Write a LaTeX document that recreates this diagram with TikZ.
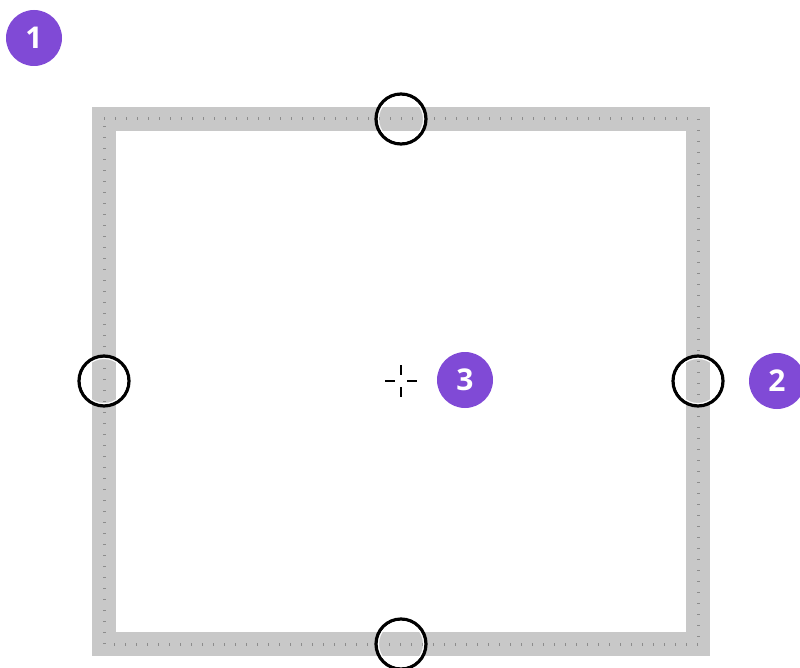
\documentclass[tikz,border=0pt]{standalone}
\usepackage{fontspec}
\setmainfont{Open Sans}
\definecolor{badge}{RGB}{128,74,214}
\definecolor{band}{RGB}{200,200,200}
\definecolor{tick}{RGB}{140,140,140}
\tikzset{
  bandline/.style={draw=band, line width=24pt},
  tickline/.style={draw=tick, line width=3pt, dash pattern=on 1pt off 10pt},
  handle/.style={circle, draw=black, line width=3.2pt, minimum size=50pt, inner sep=0pt},
  badgenode/.style={circle, fill=badge, text=white, minimum size=56pt, inner sep=0pt, font=\fontsize{30pt}{30pt}\selectfont\bfseries},
  crossline/.style={draw=black, line width=1.5pt}
}
\begin{document}
\begin{tikzpicture}[x=1pt,y=-1pt]
\useasboundingbox (0,0) rectangle (800,668);
% frame
\coordinate (tl) at (104,119);
\coordinate (tr) at (698,119);
\coordinate (br) at (698,644);
\coordinate (bl) at (104,644);
\draw[bandline] (tl) -- (tr) -- (br) -- (bl) -- cycle;
\draw[tickline] (tl) -- (tr);
\draw[tickline] (tr) -- (br);
\draw[tickline] (br) -- (bl);
\draw[tickline] (bl) -- (tl);
% handles
\foreach \n/\p in {ht/{(401,119)}, hl/{(104,381)}, hr/{(698,381)}, hb/{(401,644)}}{
  \node[handle] (\n) at \p {};
  \draw[white, line width=1pt] (\n.center) circle (22.5pt);
}
% crosshair
\coordinate (cc) at (401,381);
\draw[crossline] ([xshift=-16pt]cc) -- ([xshift=-6pt]cc);
\draw[crossline] ([xshift=6pt]cc) -- ([xshift=16pt]cc);
\draw[crossline] ([yshift=16pt]cc) -- ([yshift=6pt]cc);
\draw[crossline] ([yshift=-6pt]cc) -- ([yshift=-16pt]cc);
% badges
\node[badgenode] (b1) at (34,38) {1};
\node[badgenode] (b2) at (777,381) {2};
\node[badgenode] (b3) at (465,380) {3};
\end{tikzpicture}
\end{document}
